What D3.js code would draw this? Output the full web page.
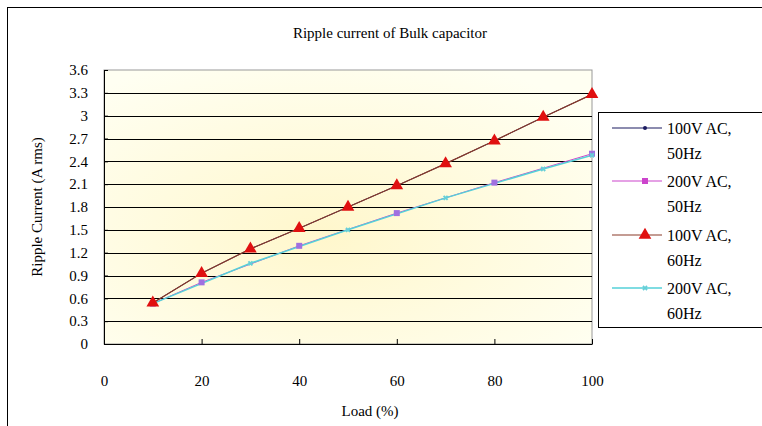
<!DOCTYPE html>
<html>
<head>
<meta charset="utf-8">
<script src="https://cdn.jsdelivr.net/npm/d3@7/dist/d3.min.js"></script>
<style>
  body { margin: 0; background: #fff; }
</style>
</head>
<body>
<svg id="chart" width="762" height="426"></svg>
<script>
// series data
const load60a = [10, 20, 30, 40, 50, 60, 70, 80, 90, 100];
const v100hz50 = [0.54, 0.93, 1.25, 1.52, 1.80, 2.08, 2.37, 2.67, 2.98, 3.28];
const v100hz60 = [0.54, 0.93, 1.25, 1.52, 1.80, 2.08, 2.37, 2.67, 2.98, 3.28];
const load200a = [10, 20, 40, 60, 80, 100];
const v200hz50 = [0.53, 0.81, 1.29, 1.72, 2.12, 2.50];
const load200b = [10, 30, 50, 70, 90, 100];
const v200hz60 = [0.53, 1.06, 1.50, 1.92, 2.30, 2.48];
const yTicks = [0, 0.3, 0.6, 0.9, 1.2, 1.5, 1.8, 2.1, 2.4, 2.7, 3, 3.3, 3.6];
const xTicks = [0, 20, 40, 60, 80, 100];
const seriesNames = [["100V AC,", "50Hz"], ["200V AC,", "50Hz"], ["100V AC,", "60Hz"], ["200V AC,", "60Hz"]];

const FONT = "'Liberation Serif', 'Times New Roman', 'DejaVu Serif', serif";

const svg = d3.select("#chart").attr("font-family", FONT);

// outer frame
svg.append("rect")
    .attr("x", 7.5).attr("y", 7.5)
    .attr("width", 800).attr("height", 500)
    .attr("fill", "none").attr("stroke", "#000");

const x = d3.scaleLinear().domain([0, 100]).range([104, 592]);
const y = d3.scaleLinear().domain([0, 3.6]).range([344, 70]);

// plot background gradient
const grad = svg.append("defs").append("radialGradient")
    .attr("id", "bg")
    .attr("cx", "0.45").attr("cy", "0.6").attr("r", "0.7");
grad.append("stop").attr("offset", "0%").attr("stop-color", "#fff7cc");
grad.append("stop").attr("offset", "100%").attr("stop-color", "#fffff2");

svg.append("rect")
    .attr("x", x(0)).attr("y", y(3.6))
    .attr("width", x(100) - x(0)).attr("height", y(0) - y(3.6))
    .attr("fill", "url(#bg)")
    .attr("stroke", "#999");

// gridlines
svg.append("g")
    .selectAll("line")
    .data(yTicks.slice(1, -1))
    .join("line")
    .attr("x1", x(0)).attr("x2", x(100))
    .attr("y1", d => Math.round(y(d)) + 0.5).attr("y2", d => Math.round(y(d)) + 0.5)
    .attr("stroke", "#000");

// axes
const xAxis = svg.append("g")
    .attr("transform", `translate(0,${y(0)})`)
    .call(d3.axisBottom(x).tickValues(xTicks).tickSizeInner(-5).tickSizeOuter(0).tickPadding(31));
const yAxis = svg.append("g")
    .attr("transform", `translate(${x(0)},0)`)
    .call(d3.axisLeft(y).tickValues(yTicks).tickFormat(d3.format("")).tickSizeInner(-4).tickSizeOuter(0).tickPadding(16));

[xAxis, yAxis].forEach(a => {
    a.attr("font-family", FONT).attr("font-size", 15);
    a.selectAll("text").attr("fill", "#000");
    a.selectAll("line, path").attr("stroke", "#000");
});

// titles
svg.append("text")
    .attr("x", 390).attr("y", 38)
    .attr("text-anchor", "middle").attr("font-size", 15)
    .text("Ripple current of Bulk capacitor");

svg.append("text")
    .attr("x", 370).attr("y", 416)
    .attr("text-anchor", "middle").attr("font-size", 15)
    .text("Load (%)");

svg.append("text")
    .attr("transform", "translate(42,207) rotate(-90)")
    .attr("text-anchor", "middle").attr("font-size", 15)
    .text("Ripple Current (A rms)");

const line = d3.line().x(d => x(d[0])).y(d => y(d[1]));

// series
const s1 = d3.zip(load60a, v100hz50);
const s2 = d3.zip(load200a, v200hz50);
const s3 = d3.zip(load60a, v100hz60);
const s4 = d3.zip(load200b, v200hz60);

svg.append("path").datum(s1).attr("d", line)
    .attr("fill", "none").attr("stroke", "#1a1a60").attr("stroke-width", 1);
svg.append("path").datum(s2).attr("d", line)
    .attr("fill", "none").attr("stroke", "#cc44cc").attr("stroke-width", 1);
svg.append("path").datum(s4).attr("d", line)
    .attr("fill", "none").attr("stroke", "#55d0d8").attr("stroke-width", 1.5);
svg.append("path").datum(s3).attr("d", line)
    .attr("fill", "none").attr("stroke", "#8a3a28").attr("stroke-width", 1.2);

const tri = d3.symbol().type(d3.symbolTriangle).size(70);

svg.append("g").selectAll("rect")
    .data(s2).join("rect")
    .attr("x", d => x(d[0]) - 3).attr("y", d => y(d[1]) - 3)
    .attr("width", 6).attr("height", 6)
    .attr("fill", "#a070e0");

svg.append("g").selectAll("path")
    .data(s4).join("path")
    .attr("d", d3.symbol().type(d3.symbolCross).size(18))
    .attr("transform", d => `translate(${x(d[0])},${y(d[1])}) rotate(45)`)
    .attr("fill", "#66cfd8");

svg.append("g").selectAll("path")
    .data(s3).join("path")
    .attr("d", tri)
    .attr("transform", d => `translate(${x(d[0])},${y(d[1])})`)
    .attr("fill", "#e01010");

// legend
const lg = svg.append("g");
lg.append("rect")
    .attr("x", 598.5).attr("y", 112.5)
    .attr("width", 200).attr("height", 215)
    .attr("fill", "#fff").attr("stroke", "#000");

const legendColors = ["#1a1a60", "#cc44cc", "#8a3a28", "#55d0d8"];
const legendY = [128, 181, 235, 288];

seriesNames.forEach((nm, i) => {
    const ly = legendY[i];
    lg.append("line")
        .attr("x1", 612).attr("x2", 662).attr("y1", ly).attr("y2", ly)
        .attr("stroke", legendColors[i]).attr("stroke-width", i === 3 ? 1.5 : 1.2);
    if (i === 0) {
        lg.append("circle").attr("cx", 645).attr("cy", ly).attr("r", 2).attr("fill", "#1a1a60");
    } else if (i === 1) {
        lg.append("rect").attr("x", 642).attr("y", ly - 3).attr("width", 6).attr("height", 6).attr("fill", "#cc44cc");
    } else if (i === 2) {
        lg.append("path").attr("d", tri).attr("transform", `translate(645,${ly})`).attr("fill", "#e01010");
    } else {
        lg.append("path").attr("d", d3.symbol().type(d3.symbolCross).size(18))
            .attr("transform", `translate(645,${ly}) rotate(45)`).attr("fill", "#66cfd8");
    }
    lg.append("text").attr("x", 667).attr("y", ly + 6).attr("font-size", 16).text(nm[0]);
    lg.append("text").attr("x", 667).attr("y", ly + 31).attr("font-size", 16).text(nm[1]);
});
</script>
</body>
</html>
